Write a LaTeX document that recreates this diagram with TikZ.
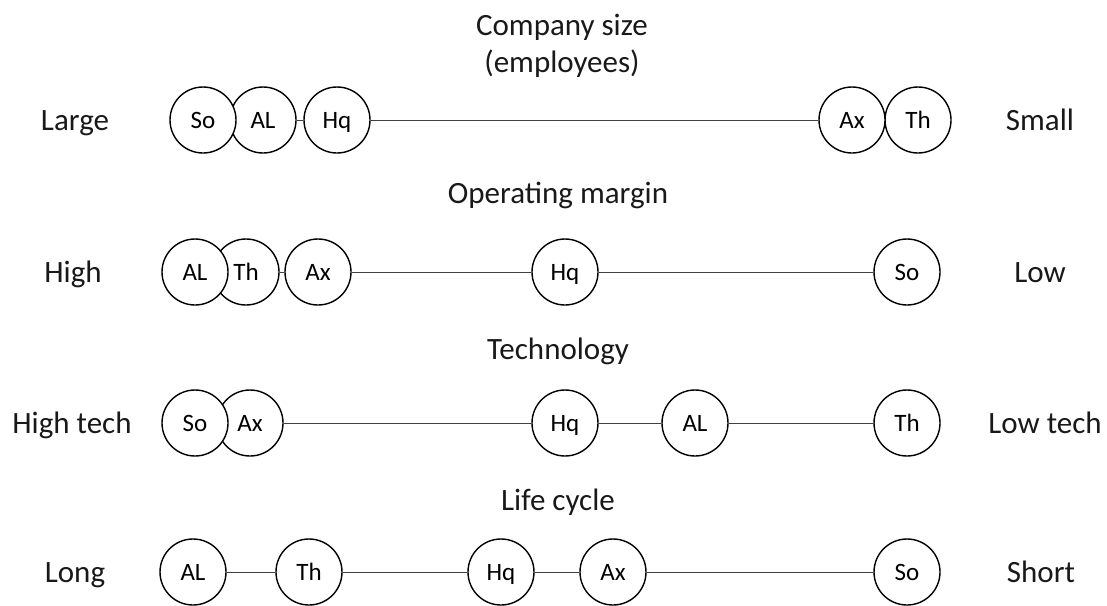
\documentclass[tikz,border=0pt]{standalone}
\usepackage{fontspec}
\setmainfont{Carlito}
\begin{document}
\begin{tikzpicture}[x=1pt,y=-1pt,
  firm/.style={circle,draw=black,fill=white,line width=1.4pt,minimum size=66pt,inner sep=0pt,
    font=\fontsize{25}{30}\selectfont,text height=17pt,text depth=0pt},
  axislabel/.style={font=\fontsize{31}{37}\selectfont,text=black!90,text height=20pt,text depth=0pt},
  heading/.style={font=\fontsize{31}{37}\selectfont,text=black!90,align=center,text height=20pt,text depth=0pt},
  twoline/.style={font=\fontsize{31}{37}\selectfont,text=black!90,align=center},
  link/.style={line width=1pt,draw=black!75}]
\useasboundingbox (0,0) rectangle (1107,605);

% Company size
\node[twoline] (t1) at (562,46) {Company size\\(employees)};
\node[axislabel] (l1) at (75,120) {Large};
\node[axislabel] (r1) at (1040,120) {Small};
\node[firm] (th1) at (918,120) {Th};
\node[firm] (ax1) at (852,120) {Ax};
\node[firm] (hq1) at (337,120) {Hq};
\node[firm] (al1) at (263,120) {AL};
\node[firm] (so1) at (203,120) {So};
\draw[link] (al1) -- (hq1);
\draw[link] (hq1) -- (ax1);

% Operating margin
\node[heading] (t2) at (558,193) {Operating margin};
\node[axislabel] (l2) at (73,272) {High};
\node[axislabel] (r2) at (1040,272) {Low};
\node[firm] (so2) at (907,272) {So};
\node[firm] (hq2) at (565,272) {Hq};
\node[firm] (ax2) at (318,272) {Ax};
\node[firm] (th2) at (246,272) {Th};
\node[firm] (al2) at (195,272) {AL};
\draw[link] (th2) -- (ax2);
\draw[link] (ax2) -- (hq2);
\draw[link] (hq2) -- (so2);

% Technology
\node[heading] (t3) at (558,349) {Technology};
\node[axislabel] (l3) at (72,423) {High tech};
\node[axislabel] (r3) at (1045,423) {Low tech};
\node[firm] (th3) at (907,423) {Th};
\node[firm] (al3) at (695,423) {AL};
\node[firm] (hq3) at (565,423) {Hq};
\node[firm] (ax3) at (250,423) {Ax};
\node[firm] (so3) at (195,423) {So};
\draw[link] (ax3) -- (hq3);
\draw[link] (hq3) -- (al3);
\draw[link] (al3) -- (th3);

% Life cycle
\node[heading] (t4) at (558,500) {Life cycle};
\node[axislabel] (l4) at (75,572) {Long};
\node[axislabel] (r4) at (1041,572) {Short};
\node[firm] (so4) at (907,572) {So};
\node[firm] (ax4) at (613,572) {Ax};
\node[firm] (hq4) at (501,572) {Hq};
\node[firm] (th4) at (309,572) {Th};
\node[firm] (al4) at (193,572) {AL};
\draw[link] (al4) -- (th4);
\draw[link] (th4) -- (hq4);
\draw[link] (hq4) -- (ax4);
\draw[link] (ax4) -- (so4);
\end{tikzpicture}
\end{document}
